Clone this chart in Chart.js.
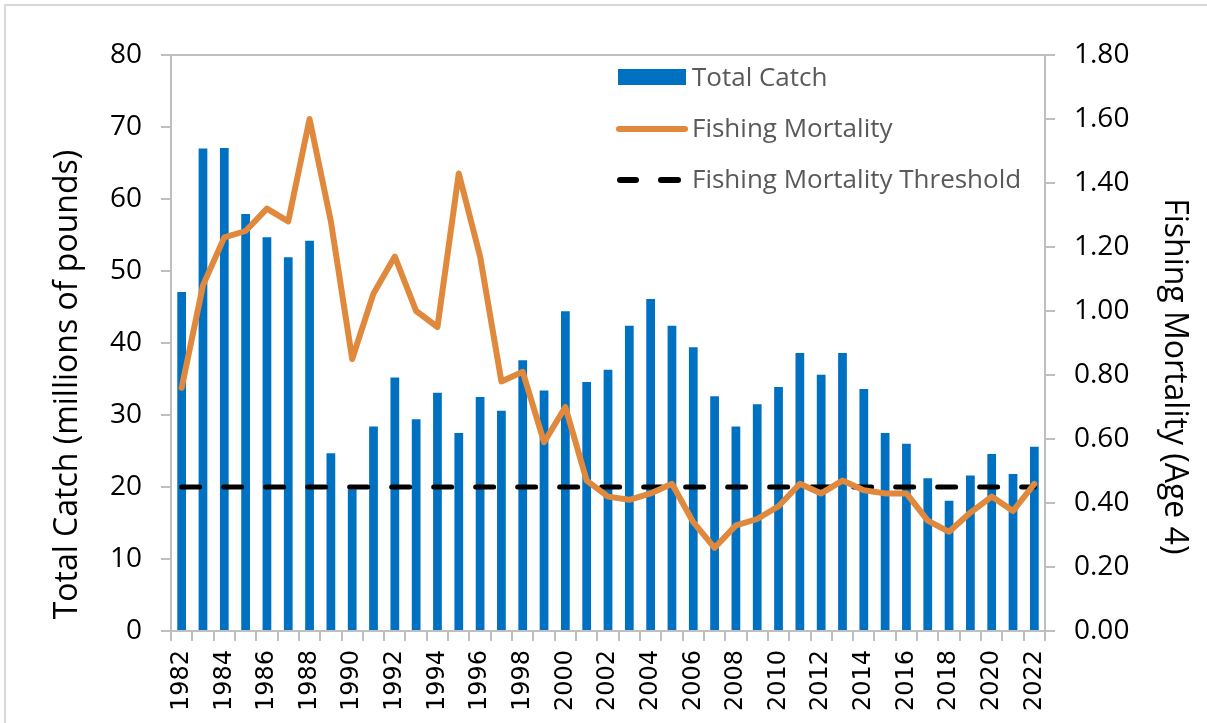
<!DOCTYPE html>
<html>
<head>
<meta charset="utf-8">
<script src="https://cdn.jsdelivr.net/npm/chart.js@4.4.1/dist/chart.umd.min.js"></script>
<style>
  html, body { margin: 0; padding: 0; background: #ffffff; }
  #wrap { position: relative; width: 1207px; height: 723px; overflow: hidden; background: #ffffff; }
  #frame { position: absolute; left: 4px; top: 4px; width: 1230px; height: 760px; border: 2px solid #d9d9d9; box-sizing: border-box; }
  #chart { position: absolute; left: 0; top: 0; }
  .lg-text { position: absolute; left: 692px; font-family: 'Open Sans', sans-serif; font-size: 26px; line-height: 26px; color: #595959; white-space: nowrap; }
  .lg-sym { position: absolute; }
</style>
</head>
<body>
<div id="wrap">
  <div id="frame"></div>
  <canvas id="chart" width="1207" height="723"></canvas>
  <div id="legend">
    <div class="lg-sym" style="left:618px; top:69px; width:68px; height:16px; background:#0070C0;"></div>
    <div class="lg-text" style="top:63px;">Total Catch</div>
    <div class="lg-sym" style="left:616px; top:126px; width:72px; height:6px; border-radius:3px; background:#E0883C;"></div>
    <div class="lg-text" style="top:114px;">Fishing Mortality</div>
    <div class="lg-sym" style="left:617px; top:177px; width:22px; height:6px; border-radius:3px; background:#000000;"></div>
    <div class="lg-sym" style="left:658px; top:177px; width:23px; height:6px; border-radius:3px; background:#000000;"></div>
    <div class="lg-text" style="top:165px;">Fishing Mortality Threshold</div>
  </div>
</div>
<script>
// ---- Data ----
const years = ['1982','1983','1984','1985','1986','1987','1988','1989','1990','1991',
               '1992','1993','1994','1995','1996','1997','1998','1999','2000','2001',
               '2002','2003','2004','2005','2006','2007','2008','2009','2010','2011',
               '2012','2013','2014','2015','2016','2017','2018','2019','2020','2021','2022'];

// Total Catch (millions of pounds)
const totalCatch = [47.1, 67.0, 67.1, 57.9, 54.7, 51.9, 54.2, 24.7, 19.7, 28.4,
                    35.2, 29.4, 33.1, 27.5, 32.5, 30.6, 37.6, 33.4, 44.4, 34.6,
                    36.3, 42.4, 46.1, 42.4, 39.4, 32.6, 28.4, 31.5, 33.9, 38.6,
                    35.6, 38.6, 33.6, 27.5, 26.0, 21.2, 18.1, 21.6, 24.6, 21.8, 25.6];

// Fishing Mortality (Age 4)
const fishingMortality = [0.76, 1.08, 1.23, 1.25, 1.32, 1.28, 1.60, 1.28, 0.85, 1.055,
                          1.17, 1.00, 0.95, 1.43, 1.17, 0.78, 0.81, 0.59, 0.70, 0.47,
                          0.42, 0.41, 0.43, 0.46, 0.34, 0.26, 0.33, 0.35, 0.39, 0.46,
                          0.43, 0.47, 0.44, 0.43, 0.43, 0.345, 0.31, 0.37, 0.42, 0.375, 0.46];

// Fishing Mortality Threshold
const mortalityThreshold = [0.45, 0.45, 0.45, 0.45, 0.45, 0.45, 0.45, 0.45, 0.45, 0.45,
                            0.45, 0.45, 0.45, 0.45, 0.45, 0.45, 0.45, 0.45, 0.45, 0.45,
                            0.45, 0.45, 0.45, 0.45, 0.45, 0.45, 0.45, 0.45, 0.45, 0.45,
                            0.45, 0.45, 0.45, 0.45, 0.45, 0.45, 0.45, 0.45, 0.45, 0.45, 0.45];

// Axis ranges / tick steps
const catchAxis = { min: 0, max: 80, step: 10 };
const mortalityAxis = { min: 0, max: 1.8, step: 0.2 };

const leftTitle = 'Total Catch (millions of pounds)';
const rightTitle = 'Fishing Mortality (Age 4)';

const NB = '\u00A0';
const axisGray = '#bfbfbf';

const plotTopBorder = {
  id: 'plotTopBorder',
  afterDatasetsDraw(chart) {
    const { ctx, chartArea: a } = chart;
    ctx.save();
    ctx.strokeStyle = axisGray;
    ctx.lineWidth = 2;
    ctx.beginPath();
    ctx.moveTo(a.left, a.top);
    ctx.lineTo(a.right, a.top);
    ctx.stroke();
    ctx.restore();
  }
};

function draw() {
  const ctx = document.getElementById('chart').getContext('2d');
  new Chart(ctx, {
    type: 'bar',
    data: {
      labels: years,
      datasets: [
        {
          type: 'line',
          label: 'Fishing Mortality',
          data: fishingMortality,
          yAxisID: 'y1',
          borderColor: '#E0883C',
          backgroundColor: '#E0883C',
          borderWidth: 6,
          pointRadius: 0,
          tension: 0,
          borderJoinStyle: 'round',
          borderCapStyle: 'round',
          order: 1
        },
        {
          type: 'line',
          label: 'Fishing Mortality Threshold',
          data: mortalityThreshold,
          yAxisID: 'y1',
          borderColor: '#000000',
          backgroundColor: '#000000',
          borderWidth: 5,
          borderDash: [18, 24],
          borderCapStyle: 'round',
          pointRadius: 0,
          tension: 0,
          order: 2
        },
        {
          type: 'bar',
          label: 'Total Catch',
          data: totalCatch,
          yAxisID: 'y',
          backgroundColor: '#0070C0',
          barPercentage: 0.41,
          categoryPercentage: 1.0,
          order: 3
        }
      ]
    },
    options: {
      responsive: false,
      animation: false,
      devicePixelRatio: 1,
      layout: { padding: { top: 55, left: 0, right: 0, bottom: 0 } },
      plugins: { legend: { display: false }, tooltip: { enabled: false } },
      scales: {
        x: {
          offset: true,
          grid: { offset: true, drawOnChartArea: false, drawTicks: true, tickLength: 10, color: axisGray, lineWidth: 2 },
          border: { display: true, color: axisGray, width: 2 },
          ticks: {
            autoSkip: false, maxRotation: 90, minRotation: 90, padding: 9,
            color: '#000000',
            font: { family: 'DejaVu Sans', size: 24 },
            callback: (v, i) => (i % 2 === 0 ? years[i] : '')
          },
          afterFit: s => { s.height = 92; }
        },
        y: {
          position: 'left',
          min: catchAxis.min, max: catchAxis.max,
          grid: { drawOnChartArea: false, drawTicks: true, tickLength: 10, color: axisGray, lineWidth: 2 },
          border: { display: true, color: axisGray, width: 2 },
          ticks: { stepSize: catchAxis.step, padding: 19, color: '#000000', font: { family: 'Open Sans', size: 28 } },
          title: {
            display: true,
            text: leftTitle + NB.repeat(10),
            color: '#000000',
            font: { family: 'Open Sans', size: 32 },
            padding: { top: 49, bottom: 0 }
          },
          afterFit: s => { s.width = 171; }
        },
        y1: {
          position: 'right',
          min: mortalityAxis.min, max: mortalityAxis.max,
          grid: { drawOnChartArea: false, drawTicks: true, tickLength: 10, color: axisGray, lineWidth: 2 },
          border: { display: true, color: axisGray, width: 2 },
          ticks: {
            stepSize: mortalityAxis.step, padding: 19, color: '#000000',
            font: { family: 'Open Sans', size: 28 },
            callback: v => Number(v).toFixed(2)
          },
          title: {
            display: true,
            text: NB.repeat(8) + rightTitle,
            color: '#000000',
            font: { family: 'Open Sans', size: 32 },
            padding: { top: 14, bottom: 0 }
          },
          afterFit: s => { s.width = 162; }
        }
      }
    },
    plugins: [plotTopBorder]
  });
}

Promise.all([
  document.fonts.load('28px "Open Sans"'),
  document.fonts.load('24px "DejaVu Sans"')
]).then(draw, draw);
</script>
</body>
</html>
